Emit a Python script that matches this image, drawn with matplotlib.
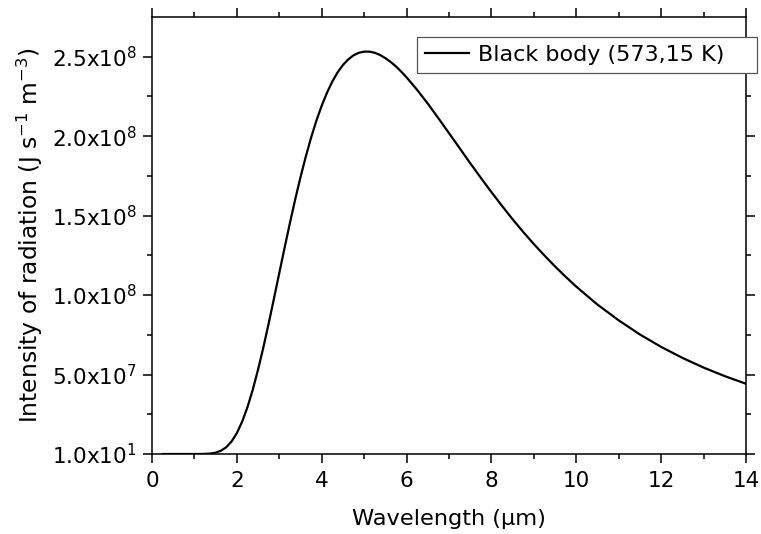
import matplotlib
matplotlib.use("Agg")
import matplotlib.pyplot as plt
from matplotlib.ticker import FixedLocator, FixedFormatter, MultipleLocator

# Spectral intensity of a black body at 573,15 K
wavelength_um = [0.25, 0.5, 0.75, 1.0, 1.125, 1.25, 1.375, 1.5, 1.625, 1.75,
                 1.875, 2.0, 2.125, 2.25, 2.375, 2.5, 2.625, 2.75, 2.875, 3.0,
                 3.125, 3.25, 3.375, 3.5, 3.625, 3.75, 3.875, 4.0, 4.125, 4.25,
                 4.375, 4.5, 4.625, 4.75, 4.875, 5.0, 5.125, 5.25, 5.375, 5.5,
                 5.625, 5.75, 5.875, 6.0, 6.25, 6.5, 6.75, 7.0, 7.25, 7.5,
                 7.75, 8.0, 8.25, 8.5, 8.75, 9.0, 9.25, 9.5, 9.75, 10.0,
                 10.5, 11.0, 11.5, 12.0, 12.5, 13.0, 13.5, 14.0]
intensity = [10, 10, 10, 1.5e3, 1.35e4, 7.4e4, 2.86e5, 8.46e5, 2.05e6, 4.27e6,
             7.88e6, 1.317e7, 2.036e7, 2.948e7, 4.048e7, 5.314e7, 6.715e7, 8.22e7, 9.79e7, 1.139e8,
             1.298e8, 1.453e8, 1.602e8, 1.742e8, 1.872e8, 1.991e8, 2.098e8, 2.192e8, 2.274e8, 2.344e8,
             2.402e8, 2.448e8, 2.483e8, 2.509e8, 2.525e8, 2.532e8, 2.532e8, 2.525e8, 2.511e8, 2.491e8,
             2.467e8, 2.439e8, 2.406e8, 2.370e8, 2.291e8, 2.205e8, 2.113e8, 2.019e8, 1.925e8, 1.830e8,
             1.738e8, 1.648e8, 1.561e8, 1.477e8, 1.397e8, 1.321e8, 1.249e8, 1.180e8, 1.115e8, 1.053e8,
             9.40e7, 8.41e7, 7.52e7, 6.74e7, 6.05e7, 5.44e7, 4.90e7, 4.42e7]

x_ticks = [0, 2, 4, 6, 8, 10, 12, 14]
y_ticks = [10, 5.0e7, 1.0e8, 1.5e8, 2.0e8, 2.5e8]
y_tick_labels = [r"1.0x10$^{1}$", r"5.0x10$^{7}$", r"1.0x10$^{8}$",
                 r"1.5x10$^{8}$", r"2.0x10$^{8}$", r"2.5x10$^{8}$"]
series_label = "Black body (573,15 K)"

plt.rcParams["font.family"] = "DejaVu Sans"
plt.rcParams["mathtext.default"] = "regular"

fig = plt.figure(figsize=(7.61, 5.34), dpi=100)
ax = fig.add_axes([152 / 761, 1 - 454 / 534, (746 - 152) / 761, (454 - 17) / 534])

ax.plot(wavelength_um, intensity, color="black", lw=1.6, label=series_label)

ax.set_xlim(0, 14)
ax.set_ylim(10, 2.75e8)

ax.xaxis.set_major_locator(FixedLocator(x_ticks))
ax.xaxis.set_minor_locator(MultipleLocator(1))
ax.yaxis.set_major_locator(FixedLocator(y_ticks))
ax.yaxis.set_major_formatter(FixedFormatter(y_tick_labels))
ax.yaxis.set_minor_locator(FixedLocator([2.5e7, 7.5e7, 1.25e8, 1.75e8, 2.25e8]))

for side in ax.spines.values():
    side.set_linewidth(1.1)

ax.tick_params(which="both", direction="out", top=True, right=True,
               labeltop=False, labelright=False, width=1.1, labelsize=15.5)
ax.tick_params(which="major", length=6.5)
ax.tick_params(which="minor", length=3.5)
ax.tick_params(axis="x", which="major", pad=6)
ax.tick_params(axis="y", which="major", pad=4.5)

ax.set_xlabel("Wavelength (µm)", fontsize=16.2, labelpad=13)
ax.set_ylabel("Intensity of radiation (J s$^{-1}$ m$^{-3}$)", fontsize=16.8, labelpad=5)

# legend box spans slightly past the right spine
leg = ax.legend(loc="upper left", bbox_to_anchor=(417 / 761, 1 - 74 / 534, 340 / 761, 37 / 534),
                bbox_transform=fig.transFigure, mode="expand", borderaxespad=0,
                fancybox=False, framealpha=1, edgecolor="#555555",
                fontsize=16, handlelength=2.0, handletextpad=0.38, borderpad=0.36)
leg.get_frame().set_linewidth(0.9)

fig.savefig("out.png", dpi=100)
